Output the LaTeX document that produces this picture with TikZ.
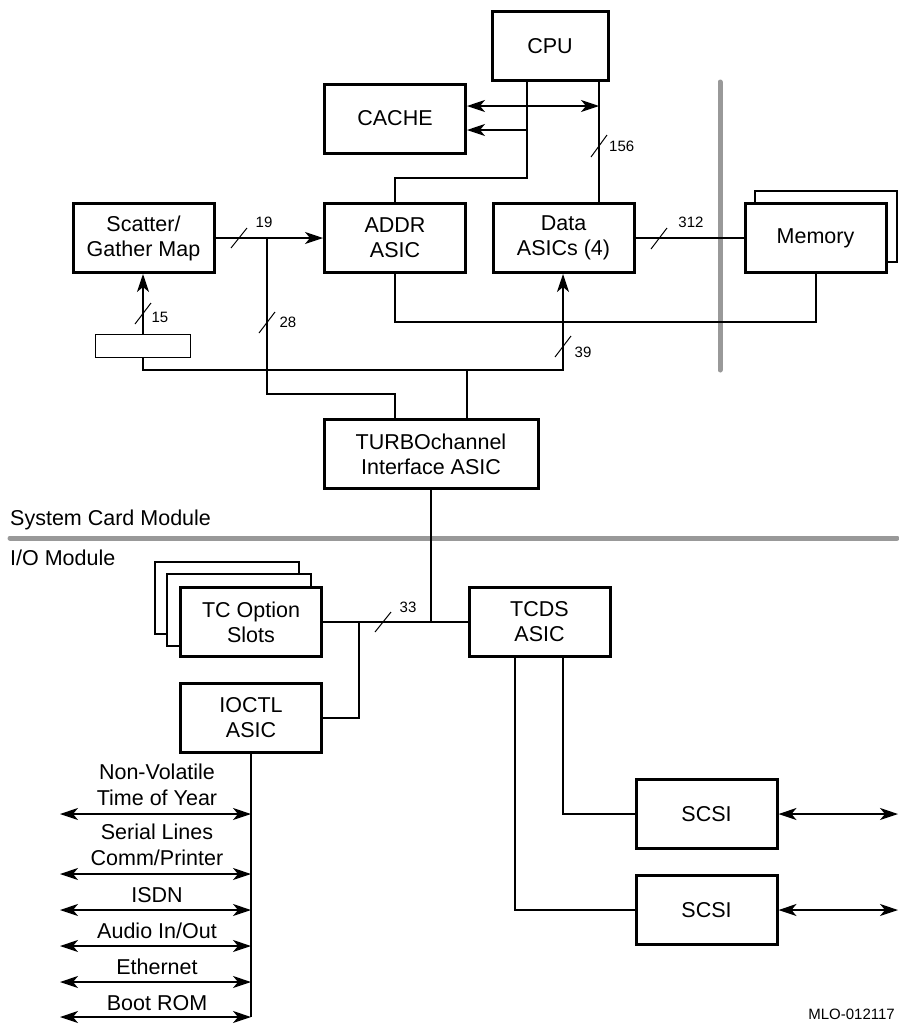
\documentclass[tikz,border=0pt]{standalone}
\usepackage{fontspec}
\setmainfont{Liberation Sans}
\usetikzlibrary{arrows.meta}
\begin{document}
\begin{tikzpicture}[x=1pt,y=-1pt,
  >={Stealth[length=18pt,width=12pt,inset=5pt]},
  box/.style={draw,line width=3pt,minimum width=141pt,minimum height=69pt,inner sep=0pt,align=center,fill=white,font=\fontsize{21.5}{25}\selectfont},
  shadowbox/.style={draw,line width=1.3pt,fill=white},
  conn/.style={line width=1.2pt},
  slash/.style={line width=1pt},
  num/.style={font=\fontsize{15}{18}\selectfont,inner sep=0pt},
  side/.style={font=\fontsize{21.5}{25.5}\selectfont,inner sep=0pt,align=center,anchor=base},
  bar/.style={line width=5pt,color=black!40,line cap=round}
]
\useasboundingbox (0,0) rectangle (899,1026);

% gray separators
\draw[bar] (720,82) -- (720,370);
\draw[bar] (10,538) -- (897,538);

% boxes
\node[box,minimum width=116pt] (CPU) at (550,46) {CPU};
\node[box] (CACHE) at (395,118.5) {CACHE};
\node[box] (SG) at (143.5,238) {Scatter/\\Gather Map};
\node[box] (ADDR) at (395,238) {ADDR\\ASIC};
\node[box] (DATA) at (563.5,238) {Data\\ASICs (4)};
\draw[shadowbox] (755,191) rectangle (897,262);
\node[box] (MEM) at (815.5,238) {Memory};
\node[draw,line width=1.3pt,minimum width=95pt,minimum height=23pt,inner sep=0pt] (SM) at (143,346) {};
\node[box,minimum width=214pt] (TURBO) at (431,454) {TURBOchannel\\Interface ASIC};
\draw[shadowbox] (155,562) rectangle (299,634);
\draw[shadowbox] (167,574) rectangle (311,646);
\node[box] (TC) at (251,622) {TC Option\\Slots};
\node[box] (TCDS) at (539.5,622) {TCDS\\ASIC};
\node[box] (IOCTL) at (251,718) {IOCTL\\ASIC};
\node[box] (SCSIa) at (706.5,814) {SCSI};
\node[box] (SCSIb) at (706.5,910) {SCSI};

% CPU / cache
\coordinate (j1) at (599,106);
\coordinate (j2) at (527,130);
\coordinate (j2b) at (527,178);
\draw[conn,<->] (CACHE.east |- j1) -- (j1);
\draw[conn,->] (j2) -- (CACHE.east |- j2);
\draw[conn] (CPU.south -| j1) -- (DATA.north -| j1);
\draw[conn] (CPU.south -| j2) -- (j2b) -| (ADDR.north);
\draw[slash] (591,157) -- (607,135);
\node[num,anchor=west] (n156) at (609,146) {156};

% scatter/gather to ADDR
\coordinate (j3) at (267,238);
\coordinate (t1) at (395,394);
\draw[conn,->] (SG.east) -- (ADDR.west);
\draw[slash] (231,248) -- (247,228);
\node[num] (n19) at (264,222) {19};
\draw[conn] (j3) |- (t1) -- (TURBO.north -| t1);
\draw[slash] (259,333) -- (275,312);
\node[num] (n28) at (288,322) {28};

% data to memory
\draw[conn] (DATA.east) -- (MEM.west);
\draw[slash] (651,249) -- (667,228);
\node[num] (n312) at (691,222) {312};
\coordinate (m1) at (816,322);
\draw[conn] (ADDR.south) |- (m1) -- (MEM.south -| m1);

% small register
\draw[conn,->] (SM.north) -- (SM.north |- SG.south);
\draw[slash] (135,324) -- (151,303);
\node[num] (n15) at (160,317) {15};
\coordinate (d1) at (563,370);
\draw[conn,->] (SM.south) |- (d1) -- (DATA.south -| d1);
\draw[slash] (555,357) -- (571,336);
\node[num] (n39) at (583,352) {39};
\coordinate (t2) at (467,370);
\draw[conn] (t2) -- (TURBO.north -| t2);

% I/O module
\coordinate (b1) at (431,622);
\coordinate (b2) at (359,622);
\draw[conn] (TURBO.south) -- (b1);
\draw[conn] (TC.east) -- (TCDS.west);
\draw[slash] (375,632) -- (391,612);
\node[num] (n33) at (408,607) {33};
\draw[conn] (b2) |- (IOCTL.east);

\coordinate (io) at (251,1017);
\draw[conn] (IOCTL.south) -- (io);
\foreach \yy/\nm in {814/a,874/b,910/c,946/d,982/e,1017/f}{
  \coordinate (L\nm) at (60,\yy);
  \draw[conn,<->] (L\nm) -- (L\nm -| io);
}
\node[side] (t1a) at (157,805) {Non-Volatile\\Time of Year};
\node[side] (t1b) at (157,865) {Serial Lines\\Comm/Printer};
\node[side] (t1c) at (157,902) {ISDN};
\node[side] (t1d) at (157,938) {Audio In/Out};
\node[side] (t1e) at (157,974) {Ethernet};
\node[side] (t1f) at (157,1010) {Boot ROM};

\coordinate (s1) at (563,814);
\coordinate (s2) at (515,910);
\draw[conn] (TCDS.south -| s1) |- (SCSIa.west);
\draw[conn] (TCDS.south -| s2) |- (SCSIb.west);
\coordinate (e1) at (898,814);
\coordinate (e2) at (898,910);
\draw[conn,<->] (SCSIa.east) -- (e1);
\draw[conn,<->] (SCSIb.east) -- (e2);

% texts
\node[font=\fontsize{21.5}{25}\selectfont,anchor=base west,inner sep=0pt] (sysl) at (10,525) {System Card Module};
\node[font=\fontsize{21.5}{25}\selectfont,anchor=base west,inner sep=0pt] (iol) at (10,565) {I/O Module};
\node[num,anchor=base east] (mlo) at (895,1019) {MLO-012117};
\end{tikzpicture}
\end{document}
